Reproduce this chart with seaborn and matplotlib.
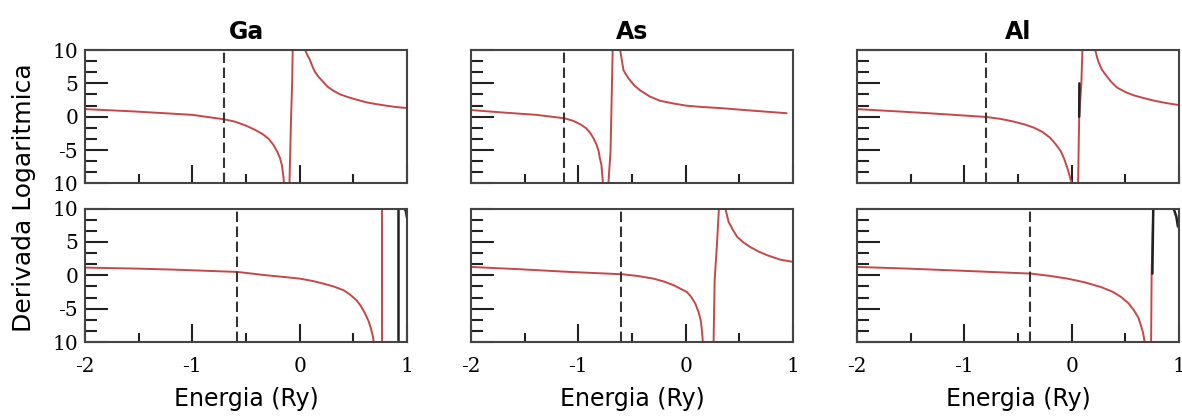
import numpy as np
import pandas as pd
import matplotlib
matplotlib.use("Agg")
import matplotlib.pyplot as plt
import matplotlib.ticker as mticker
import seaborn as sns

# panel titles (columns) and dashed reference energies (top row, bottom row)
elements = ["Ga", "As", "Al"]
dash_top = [-0.705, -1.13, -0.80]
dash_bottom = [-0.58, -0.60, -0.39]

# curves, one list of branches per panel
ga_top_e = [[-2.0, -1.55, -1.0, -0.705, -0.6, -0.49, -0.4, -0.34, -0.29, -0.245, -0.21,
             -0.183, -0.165, -0.158, -0.15, -0.146],
            [-0.095, -0.08, -0.07, -0.065],
            [0.05, 0.07, 0.096, 0.12, 0.143, 0.18, 0.22, 0.26, 0.314, 0.37, 0.438, 0.52,
             0.624, 0.71, 0.81, 0.9, 1.0]]
ga_top_d = [[1.14, 0.8, 0.28, -0.38, -0.75, -1.4, -2.1, -2.66, -3.3, -4.2, -5.2,
             -6.2, -7.3, -8.2, -9.2, -10.0],
            [-10.0, 0.0, 5.0, 10.0],
            [10.0, 9.3, 8.5, 7.5, 6.7, 5.9, 5.2, 4.5, 3.9, 3.4, 3.0, 2.6,
             2.15, 1.9, 1.65, 1.45, 1.3]]

ga_bot_e = [[-2.0, -1.52, -1.18, -0.58, -0.31, -0.15, 0.0, 0.12, 0.22, 0.32, 0.41, 0.47,
             0.53, 0.57, 0.61, 0.64, 0.66, 0.68, 0.69],
            [0.765, 0.765]]
ga_bot_d = [[1.15, 1.0, 0.85, 0.5, 0.0, -0.25, -0.5, -0.85, -1.25, -1.7, -2.25, -2.9,
             -3.75, -4.6, -5.75, -6.8, -7.75, -9.0, -10.0],
            [-10.0, 10.0]]

as_top_e = [[-2.0, -1.70, -1.39, -1.13, -1.05, -0.98, -0.93, -0.89, -0.86, -0.83, -0.81,
             -0.80, -0.785, -0.78, -0.775, -0.77],
            [-0.72, -0.70, -0.69, -0.68],
            [-0.61, -0.595, -0.58, -0.555, -0.53, -0.48, -0.42, -0.33, -0.24, -0.12, 0.01,
             0.16, 0.32, 0.63, 0.94]]
as_top_d = [[1.0, 0.63, 0.28, -0.23, -0.6, -1.14, -1.7, -2.4, -3.2, -4.2, -5.2,
             -6.2, -7.2, -8.2, -9.1, -10.0],
            [-10.0, -5.2, 2.4, 10.0],
            [10.0, 8.5, 7.0, 6.3, 5.7, 4.7, 3.9, 3.0, 2.4, 2.0, 1.65,
             1.45, 1.3, 0.9, 0.53]]

as_bot_e = [[-2.0, -1.54, -1.08, -0.59, -0.45, -0.30, -0.2, -0.11, -0.05, 0.01, 0.05,
             0.09, 0.12, 0.14, 0.15, 0.16],
            [0.26, 0.27, 0.29, 0.31],
            [0.37, 0.40, 0.44, 0.48, 0.54, 0.60, 0.68, 0.76, 0.88, 1.0]]
as_bot_d = [[1.25, 0.9, 0.5, 0.15, -0.1, -0.5, -0.95, -1.5, -2.0, -2.5, -3.2,
             -4.25, -5.5, -6.75, -8.0, -10.0],
            [-10.0, -0.75, 4.25, 10.0],
            [10.0, 8.0, 6.8, 5.75, 4.9, 4.25, 3.55, 3.0, 2.35, 2.0]]

al_top_e = [[-2.0, -1.60, -1.29, -0.80, -0.66, -0.54, -0.44, -0.35, -0.27, -0.20, -0.15,
             -0.10, -0.07, -0.04, -0.02, 0.0],
            [0.06, 0.07, 0.09, 0.10],
            [0.22, 0.235, 0.25, 0.28, 0.32, 0.37, 0.42, 0.50, 0.58, 0.67, 0.77, 0.88, 1.0]]
al_top_d = [[1.14, 0.78, 0.48, -0.03, -0.33, -0.73, -1.15, -1.65, -2.3, -3.16, -4.1,
             -5.2, -6.3, -7.7, -8.8, -10.0],
            [-10.0, 0.1, 4.9, 10.0],
            [10.0, 9.0, 8.2, 7.1, 6.2, 5.2, 4.4, 3.7, 3.2, 2.8, 2.4, 2.05, 1.75]]

al_bot_e = [[-2.0, -1.53, -0.98, -0.38, -0.2, -0.04, 0.12, 0.27, 0.38, 0.46, 0.53,
             0.58, 0.62, 0.64, 0.665, 0.68],
            [0.74, 0.745, 0.76]]
al_bot_d = [[1.25, 1.0, 0.65, 0.25, -0.1, -0.5, -1.05, -1.75, -2.45, -3.25, -4.2,
             -5.25, -6.3, -7.25, -8.6, -10.0],
            [-10.0, 0.25, 10.0]]

# dark overlay pieces (second, black curve showing through)
ga_bot_black_e = [[0.914, 0.914], [0.975, 0.99, 1.0]]
ga_bot_black_d = [[-10.0, 10.0], [10.0, 9.6, 8.6]]
al_top_black_e = [[0.07, 0.072]]
al_top_black_d = [[0.0, 5.0]]
al_bot_black_e = [[0.752, 0.76], [0.95, 0.975, 0.99]]
al_bot_black_d = [[0.25, 10.0], [10.0, 8.8, 7.3]]

top_curves = [(ga_top_e, ga_top_d), (as_top_e, as_top_d), (al_top_e, al_top_d)]
bot_curves = [(ga_bot_e, ga_bot_d), (as_bot_e, as_bot_d), (al_bot_e, al_bot_d)]
black_pieces = {(1, 0): (ga_bot_black_e, ga_bot_black_d),
                (0, 2): (al_top_black_e, al_top_black_d),
                (1, 2): (al_bot_black_e, al_bot_black_d)}

# y tick labels from bottom to top, as printed in the figure
ytick_labels = ["10", "-5", "0", "5", "10"]
xtick_labels = ["-2", "-1", "0", "1"]

RED = "#c44848"


def to_frame(es, ds):
    rows = []
    for b, (e, d) in enumerate(zip(es, ds)):
        for x, y in zip(e, d):
            rows.append((b, x, y))
    return pd.DataFrame(rows, columns=["branch", "E", "D"])


sns.set_theme(style="white")
plt.rcParams["font.family"] = ["DejaVu Sans"]
plt.rcParams["text.color"] = "black"
plt.rcParams["axes.labelcolor"] = "black"
plt.rcParams["xtick.color"] = "black"
plt.rcParams["ytick.color"] = "black"

W, H = 1182, 416
fig, axes = plt.subplots(2, 3, figsize=(W / 100, H / 100), dpi=100)
fig.subplots_adjust(left=85 / W, right=1179 / W, top=1 - 50 / H, bottom=1 - 342 / H,
                    wspace=64 / 322, hspace=25 / 133)

for r in range(2):
    for c in range(3):
        ax = axes[r, c]
        es, ds = (top_curves if r == 0 else bot_curves)[c]
        sns.lineplot(data=to_frame(es, ds), x="E", y="D", units="branch", estimator=None,
                     sort=False, color=RED, lw=1.4, ax=ax, legend=False)
        if (r, c) in black_pieces:
            be, bd = black_pieces[(r, c)]
            sns.lineplot(data=to_frame(be, bd), x="E", y="D", units="branch", estimator=None,
                         sort=False, color="#222222", lw=1.8, ax=ax, legend=False)
        ax.axvline((dash_top if r == 0 else dash_bottom)[c], color="#333333", lw=1.5,
                   ls=(0, (5, 2.2)))

        ax.set_xlim(-2, 1)
        ax.set_ylim(-10, 10)
        ax.xaxis.set_major_locator(mticker.FixedLocator([-2, -1, 0, 1]))
        ax.xaxis.set_minor_locator(mticker.FixedLocator([-1.5, -0.5, 0.5]))
        ax.yaxis.set_major_locator(mticker.FixedLocator([-10, -5, 0, 5, 10]))
        ax.yaxis.set_minor_locator(mticker.FixedLocator([-25 / 3, -20 / 3, -10 / 3, -5 / 3,
                                                         5 / 3, 10 / 3, 20 / 3, 25 / 3]))
        ax.tick_params(axis="x", which="major", direction="in", length=13, width=1.5,
                       color="#222222", bottom=True, top=False, pad=11)
        ax.tick_params(axis="x", which="minor", direction="in", length=6.5, width=1.5,
                       color="#222222", bottom=True, top=False)
        ax.tick_params(axis="y", which="major", direction="in", length=16.5, width=1.5,
                       color="#222222", left=True, right=False, pad=5)
        ax.tick_params(axis="y", which="minor", direction="in", length=8.5, width=1.5,
                       color="#222222", left=True, right=False)

        if c == 0:
            ax.yaxis.set_major_formatter(mticker.FixedFormatter(ytick_labels))
            for t in ax.get_yticklabels():
                t.set_family("DejaVu Serif")
                t.set_fontsize(14.5)
        else:
            ax.set_yticklabels([])
        if r == 1:
            ax.xaxis.set_major_formatter(mticker.FixedFormatter(xtick_labels))
            for t in ax.get_xticklabels():
                t.set_family("DejaVu Serif")
                t.set_fontsize(14.5)
            ax.set_xlabel("Energia (Ry)", fontsize=17, labelpad=8)
        else:
            ax.set_xticklabels([])
            ax.set_xlabel("")
            ax.set_title(elements[c], fontsize=17, fontweight="bold", pad=8)
        ax.set_ylabel("")

        for s in ax.spines.values():
            s.set_color("#444444")
            s.set_linewidth(1.5)

fig.text(24 / W, 1 - 198 / H, "Derivada Logaritmica", rotation=90, fontsize=18,
         ha="center", va="center")

fig.savefig("out.png", dpi=100, facecolor="white")
